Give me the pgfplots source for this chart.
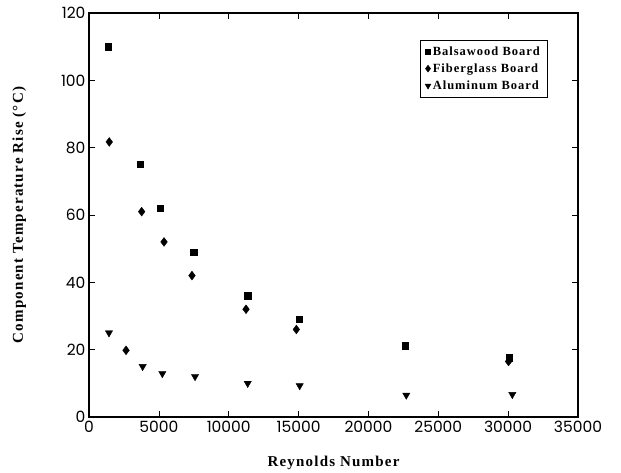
\documentclass[border=0pt]{standalone}
\usepackage{fontspec}
\usepackage{pgfplots}
\pgfplotsset{compat=1.18}
\setmainfont{Liberation Serif}
\newfontfamily\tickfont{Poppins}
\newfontfamily\labfont[LetterSpace=8]{Liberation Serif}
\newfontfamily\legfont[LetterSpace=8]{Liberation Serif}

\begin{document}
\begin{tikzpicture}
\begin{axis}[
  at={(0pt,0pt)}, anchor=south west,
  scale only axis, width=489pt, height=404pt,
  xmin=0, xmax=35000, ymin=0, ymax=120,
  xtick distance=5000, ytick distance=20,
  scaled x ticks=false,
  axis line style={line width=1.6pt},
  tick style={black, line width=0.6pt},
  major tick length=6pt,
  /pgf/number format/assume math mode=true,
  /pgf/number format/1000 sep={},
  tick label style={font=\tickfont\fontsize{15.5}{15.5}\selectfont},
  xticklabel style={yshift=-1pt},
  xlabel={\labfont\bfseries\fontsize{15}{15}\selectfont Reynolds Number},
  ylabel={\labfont\bfseries\fontsize{15}{15}\selectfont Component Temperature Rise (°C)},
  xlabel style={yshift=-16pt},
  ylabel style={yshift=28pt},
  legend style={at={(0.937,0.933)}, anchor=north east, draw=black, line width=0.6pt,
    font=\legfont\bfseries\fontsize{12.5}{13}\selectfont, row sep=3pt,
    inner xsep=5pt, inner ysep=4pt,
    /tikz/every even column/.append style={column sep=5pt}},
  legend image post style={scale=0.75},
  legend cell align=left,
]
\addplot[only marks, mark=square*, mark size=3.2pt, black] coordinates {
  (1380,110) (3670,75) (5100,62) (7500,49) (11350,36) (15050,29) (22650,21.2) (30080,17.6)};
\addlegendentry{Balsawood Board}
\addplot[only marks, mark=diamond*, mark size=4.4pt, black] coordinates {
  (1450,81.7) (2650,19.8) (3770,61) (5370,52) (7370,42) (11240,32) (14840,26) (30030,16.5)};
\addlegendentry{Fiberglass Board}
\addplot[only marks, mark=triangle*, mark options={rotate=180}, mark size=4.2pt, black] coordinates {
  (1430,25) (3840,15) (5250,12.9) (7590,12) (11360,10) (15080,9.3) (22710,6.5) (30300,6.7)};
\addlegendentry{Aluminum Board}
\end{axis}
\useasboundingbox (-89pt,-56pt) rectangle (532pt,417pt);
\end{tikzpicture}
\end{document}
